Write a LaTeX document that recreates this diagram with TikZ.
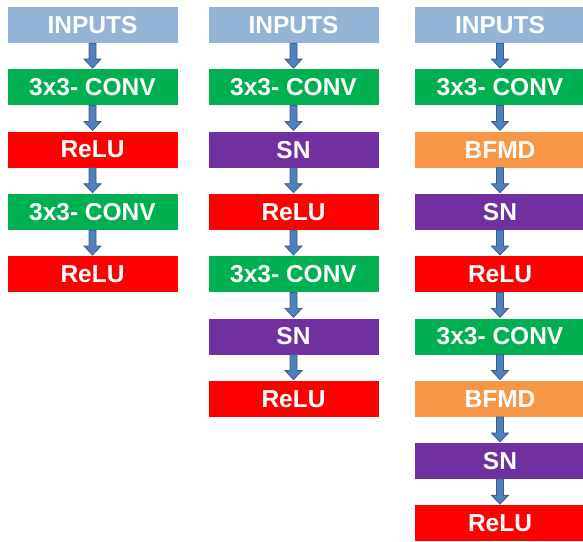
\documentclass[tikz,border=0pt]{standalone}
\usepackage{fontspec}
\setmainfont{Liberation Sans}
\usetikzlibrary{calc}
\definecolor{cinp}{HTML}{95B3D7}
\definecolor{cconv}{HTML}{00B050}
\definecolor{crelu}{HTML}{FF0000}
\definecolor{csn}{HTML}{7030A0}
\definecolor{cbfmd}{HTML}{F79646}
\definecolor{carrow}{HTML}{4F81BD}
\definecolor{carrowd}{HTML}{385D8A}
\tikzset{
  layer/.style={minimum width=170pt, minimum height=36pt, inner sep=0pt, text=white,
    font=\fontsize{24.5}{26}\selectfont\bfseries},
  inp/.style={layer, fill=cinp},
  conv/.style={layer, fill=cconv},
  relu/.style={layer, fill=crelu},
  sn/.style={layer, fill=csn},
  bfmd/.style={layer, fill=cbfmd},
  blockarrow/.style={fill=carrow, draw=carrowd, line width=0.8pt, line join=miter}
}
\newcommand{\barrow}[2]{%
  \draw[blockarrow] let \p1=(#1.south), \p2=(#2.north) in
    (\x1-3.5pt,\y1) -- (\x1-3.5pt,\y2+10pt) -- (\x1-8.5pt,\y2+10pt) -- (\x1,\y2+1pt)
    -- (\x1+8.5pt,\y2+10pt) -- (\x1+3.5pt,\y2+10pt) -- (\x1+3.5pt,\y1) -- cycle;}
\begin{document}
\begin{tikzpicture}[x=1pt,y=-1pt]
\useasboundingbox (0,0) rectangle (583,541);
% column 1
\node[inp]  (a1) at (92.5,25) {INPUTS};
\node[conv] (a2) at (92.5,87.3) {3x3- CONV};
\node[relu] (a3) at (92.5,149.6) {ReLU};
\node[conv] (a4) at (92.5,211.9) {3x3- CONV};
\node[relu] (a5) at (92.5,274.2) {ReLU};
% column 2
\node[inp]  (b1) at (293.5,25) {INPUTS};
\node[conv] (b2) at (293.5,87.3) {3x3- CONV};
\node[sn]   (b3) at (293.5,149.6) {SN};
\node[relu] (b4) at (293.5,211.9) {ReLU};
\node[conv] (b5) at (293.5,274.2) {3x3- CONV};
\node[sn]   (b6) at (293.5,336.5) {SN};
\node[relu] (b7) at (293.5,398.8) {ReLU};
% column 3
\node[inp]  (c1) at (500,25) {INPUTS};
\node[conv] (c2) at (500,87.3) {3x3- CONV};
\node[bfmd] (c3) at (500,149.6) {BFMD};
\node[sn]   (c4) at (500,211.9) {SN};
\node[relu] (c5) at (500,274.2) {ReLU};
\node[conv] (c6) at (500,336.5) {3x3- CONV};
\node[bfmd] (c7) at (500,398.8) {BFMD};
\node[sn]   (c8) at (500,461.1) {SN};
\node[relu] (c9) at (500,523.4) {ReLU};
% arrows
\barrow{a1}{a2}\barrow{a2}{a3}\barrow{a3}{a4}\barrow{a4}{a5}
\barrow{b1}{b2}\barrow{b2}{b3}\barrow{b3}{b4}\barrow{b4}{b5}\barrow{b5}{b6}\barrow{b6}{b7}
\barrow{c1}{c2}\barrow{c2}{c3}\barrow{c3}{c4}\barrow{c4}{c5}\barrow{c5}{c6}\barrow{c6}{c7}\barrow{c7}{c8}\barrow{c8}{c9}
\end{tikzpicture}
\end{document}
